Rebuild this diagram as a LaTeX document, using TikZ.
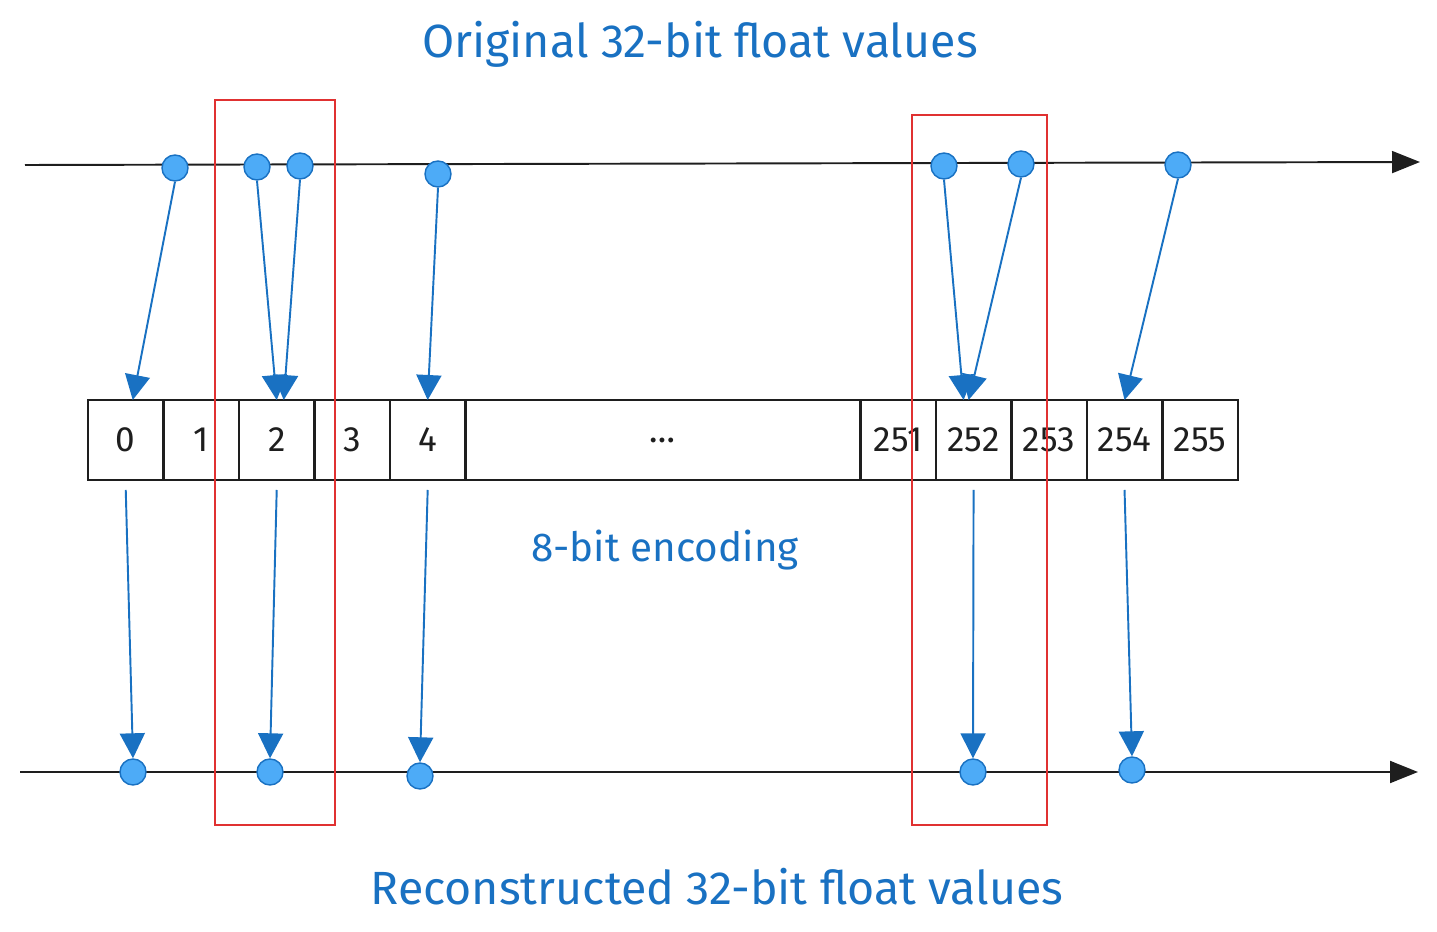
\documentclass[tikz,border=0pt]{standalone}
\usepackage{fontspec}
\setmainfont{Fira Sans}
\usetikzlibrary{positioning,arrows.meta}
\definecolor{stift}{HTML}{1971C2}
\definecolor{punkt}{HTML}{4DABF7}
\definecolor{rot}{HTML}{E03131}
\definecolor{tinte}{HTML}{1E1E1E}
\begin{document}
\begin{tikzpicture}[x=0.02cm, y=-0.02cm,
    achse/.style={tinte, line width=1.1pt, -{Triangle[length=0.56cm, width=0.44cm]}},
    wert/.style={circle, draw=stift, fill=punkt, line width=0.8pt, minimum size=0.52cm, inner sep=0pt},
    zelle/.style={draw=tinte, line width=1.4pt, minimum width=1.51cm, minimum height=1.6cm, inner sep=0pt, outer sep=0pt, text=tinte, font=\fontsize{20}{22}\selectfont},
    pfeil/.style={stift, line width=1.1pt, -{Triangle[length=0.5cm, width=0.5cm]}},
    rahmen/.style={draw=rot, line width=1pt},
    titel/.style={text=stift, font=\fontsize{26.5}{30}\selectfont}]
    \useasboundingbox (0,0) rectangle (1437,932);
    % Titel
    \node[titel] (oben) at (700,44) {Original 32-bit float values};
    \node[titel, font=\fontsize{23}{26}\selectfont] (mitte) at (665,550) {8-bit encoding};
    \node[titel] (unten) at (717,887) {Reconstructed 32-bit float values};
    % Achsen
    \coordinate (o1) at (25,165);
    \coordinate (o2) at (1420,162);
    \coordinate (u1) at (20,772);
    \coordinate (u2) at (1418,772);
    \draw[achse] (o1) -- (o2);
    \draw[achse] (u1) -- (u2);
    % Kaestchen
    \node[zelle, anchor=west] (b0) at (88,440) {0};
    \node[zelle, right=0pt of b0] (b1) {1};
    \node[zelle, right=0pt of b1] (b2) {2};
    \node[zelle, right=0pt of b2] (b3) {3};
    \node[zelle, right=0pt of b3] (b4) {4};
    \node[zelle, right=0pt of b4, minimum width=7.9cm] (bpunkte) {\dots};
    \node[zelle, right=0pt of bpunkte] (b251) {251};
    \node[zelle, right=0pt of b251] (b252) {252};
    \node[zelle, right=0pt of b252] (b253) {253};
    \node[zelle, right=0pt of b253] (b254) {254};
    \node[zelle, right=0pt of b254] (b255) {255};
    % Originalwerte
    \node[wert] (t1) at (175,168) {};
    \node[wert] (t2) at (257,167) {};
    \node[wert] (t3) at (300,166) {};
    \node[wert] (t4) at (438,174) {};
    \node[wert] (t5) at (944,166) {};
    \node[wert] (t6) at (1021,164) {};
    \node[wert] (t7) at (1178,165) {};
    % Rekonstruierte Werte
    \node[wert] (r0) at (133,772) {};
    \node[wert] (r2) at (270,772) {};
    \node[wert] (r4) at (420,776) {};
    \node[wert] (r252) at (973,772) {};
    \node[wert] (r254) at (1132,770) {};
    % Kodierung
    \draw[pfeil] (t1.south) -- ([xshift=0.14cm]b0.north);
    \draw[pfeil] (t2.south) -- (b2.north);
    \draw[pfeil] (t3.south) -- ([xshift=0.14cm]b2.north);
    \draw[pfeil] (t4.south) -- (b4.north);
    \draw[pfeil] (t5.south) -- ([xshift=-0.2cm]b252.north);
    \draw[pfeil] (t6.south) -- ([xshift=-0.1cm]b252.north);
    \draw[pfeil] (t7.south) -- (b254.north);
    % Dekodierung
    \draw[pfeil] ([yshift=-0.2cm]b0.south) -- (r0.north);
    \draw[pfeil] ([yshift=-0.2cm]b2.south) -- (r2.north);
    \draw[pfeil] ([yshift=-0.2cm]b4.south) -- (r4.north);
    \draw[pfeil] ([yshift=-0.2cm]b252.south) -- (r252.north);
    \draw[pfeil] ([yshift=-0.2cm]b254.south) -- (r254.north);
    % Rahmen
    \draw[rahmen] (215,100) rectangle (335,825);
    \draw[rahmen] (912,115) rectangle (1047,825);
\end{tikzpicture}
\end{document}
